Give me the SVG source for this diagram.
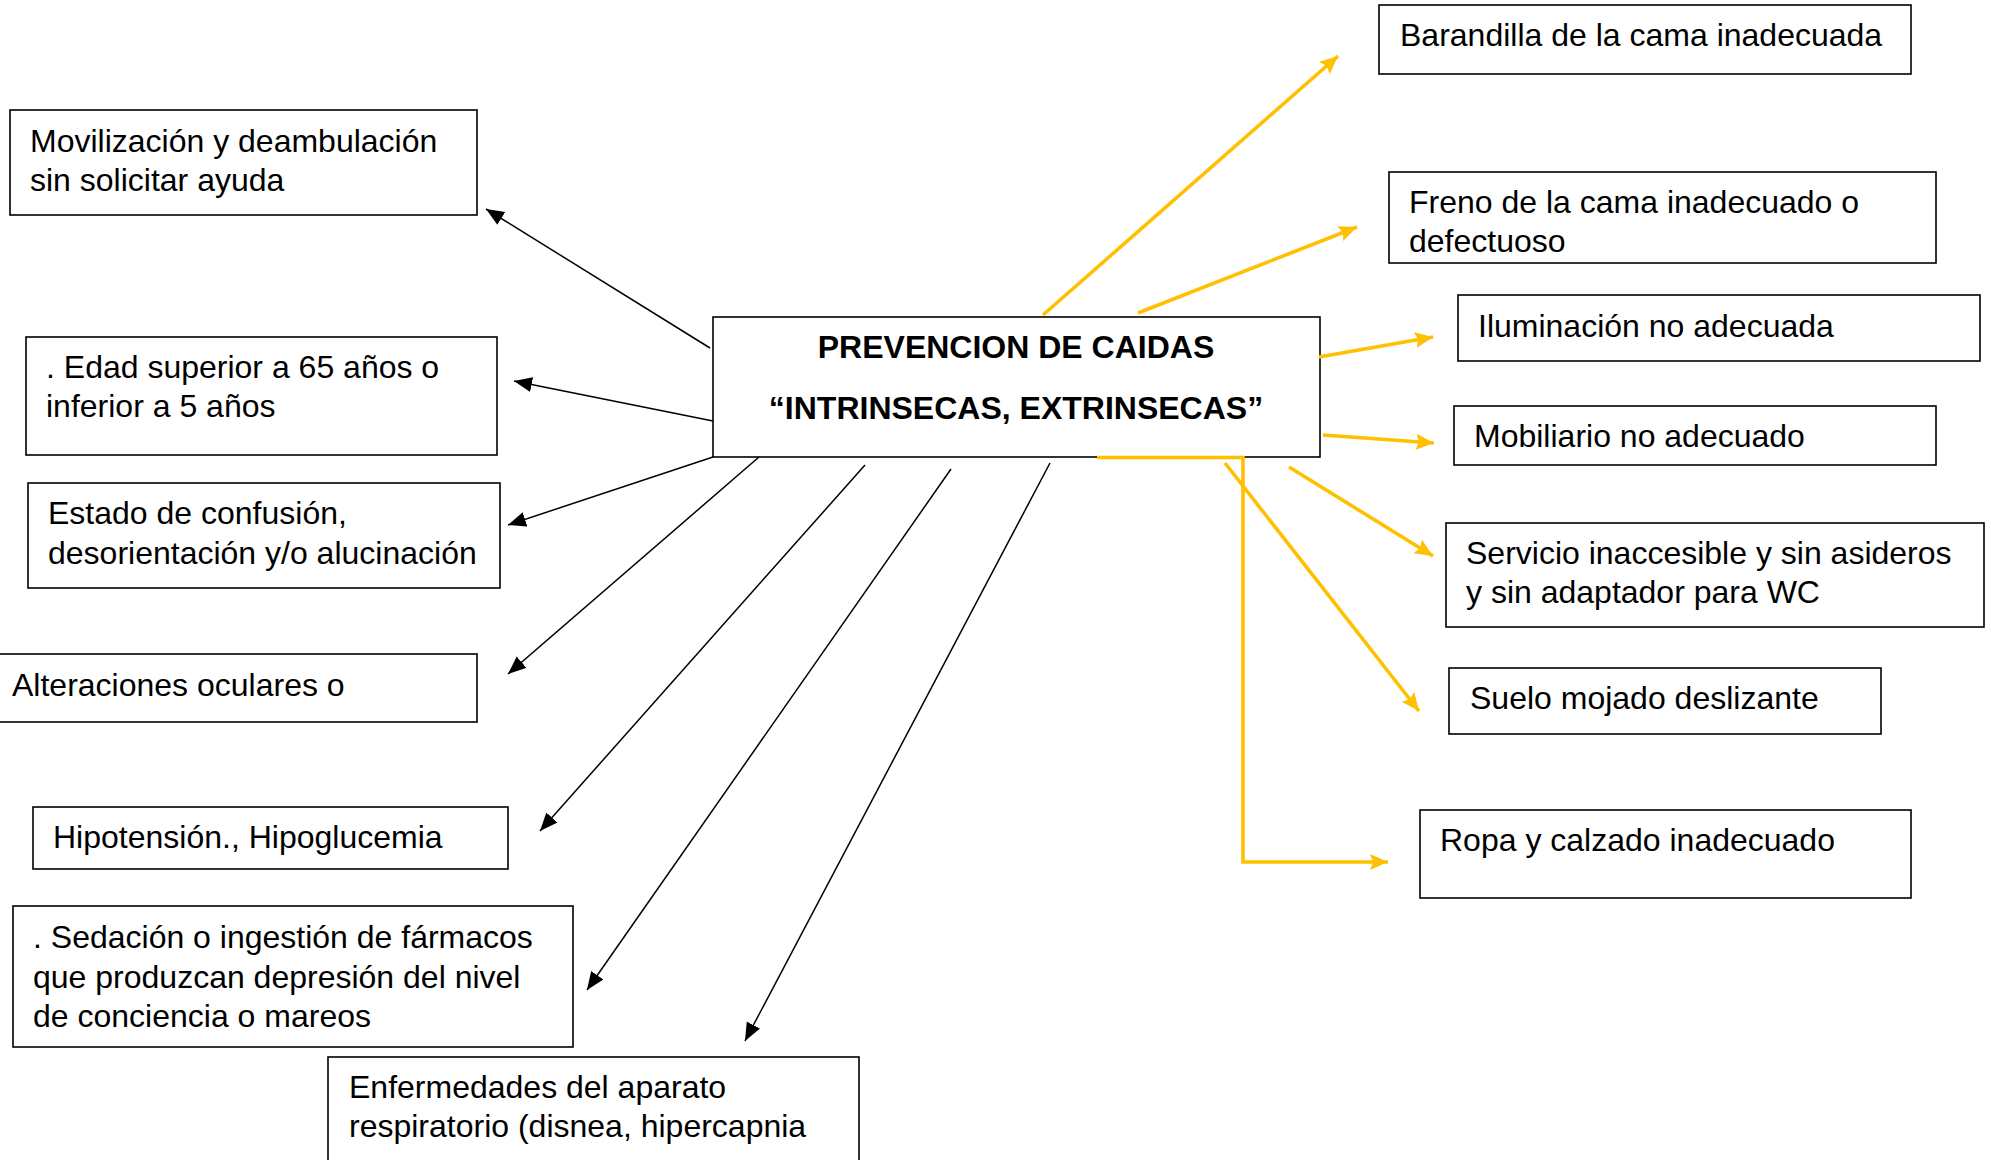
<svg xmlns="http://www.w3.org/2000/svg" width="1991" height="1160" viewBox="0 0 1991 1160">
<defs>
<style>
.box{fill:#fff;stroke:#000;stroke-width:1.6}
.t{font-family:"Liberation Sans",Arial,sans-serif;font-size:32px;fill:#000}
.tb{font-family:"Liberation Sans",Arial,sans-serif;font-size:32px;font-weight:bold;fill:#000;text-anchor:middle}
.bk{stroke:#000;stroke-width:1.5;fill:none;marker-end:url(#ab)}
.yl{stroke:#FFC000;stroke-width:3.6;fill:none;marker-end:url(#ay)}
</style>
<marker id="ab" markerUnits="userSpaceOnUse" markerWidth="20" markerHeight="16" refX="18" refY="7.5" orient="auto">
<path d="M0,0 L18,7.5 L0,15 z" fill="#000"/>
</marker>
<marker id="ay" markerUnits="userSpaceOnUse" markerWidth="20" markerHeight="18" refX="18" refY="8" orient="auto">
<path d="M0,0 L18,8 L0,16 L3,8 z" fill="#FFC000"/>
</marker>
</defs>
<rect width="1991" height="1160" fill="#fff"/>

<g id="n-center">
<rect class="box" x="713" y="317" width="607" height="140"/>
<text class="tb" x="1016" y="358">PREVENCION DE CAIDAS</text>
<text class="tb" x="1016" y="419">“INTRINSECAS, EXTRINSECAS”</text>
</g>

<g id="n-movilizacion">
<rect class="box" x="10" y="110" width="467" height="105"/>
<text class="t" x="30" y="152"><tspan x="30">Movilización y deambulación</tspan><tspan x="30" y="191">sin solicitar ayuda</tspan></text>
</g>
<g id="n-edad">
<rect class="box" x="26" y="337" width="471" height="118"/>
<text class="t" x="46" y="378"><tspan x="46">. Edad superior a 65 años o</tspan><tspan x="46" y="417">inferior a 5 años</tspan></text>
</g>
<g id="n-estado">
<rect class="box" x="28" y="483" width="472" height="105"/>
<text class="t" x="48" y="524"><tspan x="48">Estado de confusión,</tspan><tspan x="48" y="564">desorientación y/o alucinación</tspan></text>
</g>
<g id="n-alteraciones">
<rect class="box" x="-2" y="654" width="479" height="68"/>
<text class="t" x="12" y="696">Alteraciones oculares o</text>
</g>
<g id="n-hipotension">
<rect class="box" x="33" y="807" width="475" height="62"/>
<text class="t" x="53" y="848">Hipotensión., Hipoglucemia</text>
</g>
<g id="n-sedacion">
<rect class="box" x="13" y="906" width="560" height="141"/>
<text class="t" x="33" y="948"><tspan x="33">. Sedación o ingestión de fármacos</tspan><tspan x="33" y="988">que produzcan depresión del nivel</tspan><tspan x="33" y="1027">de conciencia o mareos</tspan></text>
</g>
<g id="n-enfermedades">
<rect class="box" x="328" y="1057" width="531" height="120"/>
<text class="t" x="349" y="1098"><tspan x="349">Enfermedades del aparato</tspan><tspan x="349" y="1137">respiratorio (disnea, hipercapnia</tspan></text>
</g>

<g id="n-barandilla">
<rect class="box" x="1379" y="5" width="532" height="69"/>
<text class="t" x="1400" y="46">Barandilla de la cama inadecuada</text>
</g>
<g id="n-freno">
<rect class="box" x="1389" y="172" width="547" height="91"/>
<text class="t" x="1409" y="213"><tspan x="1409">Freno de la cama inadecuado o</tspan><tspan x="1409" y="252">defectuoso</tspan></text>
</g>
<g id="n-iluminacion">
<rect class="box" x="1458" y="295" width="522" height="66"/>
<text class="t" x="1478" y="337">Iluminación no adecuada</text>
</g>
<g id="n-mobiliario">
<rect class="box" x="1454" y="406" width="482" height="59"/>
<text class="t" x="1474" y="447">Mobiliario no adecuado</text>
</g>
<g id="n-servicio">
<rect class="box" x="1446" y="523" width="538" height="104"/>
<text class="t" x="1466" y="564"><tspan x="1466">Servicio inaccesible y sin asideros</tspan><tspan x="1466" y="603">y sin adaptador para WC</tspan></text>
</g>
<g id="n-suelo">
<rect class="box" x="1449" y="668" width="432" height="66"/>
<text class="t" x="1470" y="709">Suelo mojado deslizante</text>
</g>
<g id="n-ropa">
<rect class="box" x="1420" y="810" width="491" height="88"/>
<text class="t" x="1440" y="851">Ropa y calzado inadecuado</text>
</g>

<g id="connectors">
<line class="bk" x1="710" y1="348" x2="486" y2="209"/>
<line class="bk" x1="713" y1="421" x2="514" y2="381"/>
<line class="bk" x1="713" y1="457" x2="508" y2="525"/>
<line class="bk" x1="759" y1="457" x2="508" y2="674"/>
<line class="bk" x1="865" y1="465" x2="540" y2="831"/>
<line class="bk" x1="951" y1="469" x2="587" y2="990"/>
<line class="bk" x1="1050" y1="463" x2="745" y2="1041"/>

<line class="yl" x1="1043" y1="315" x2="1338" y2="56"/>
<line class="yl" x1="1138" y1="313" x2="1357" y2="227"/>
<line class="yl" x1="1319" y1="357" x2="1433" y2="337"/>
<line class="yl" x1="1323" y1="435" x2="1434" y2="443"/>
<line class="yl" x1="1289" y1="467" x2="1433" y2="556"/>
<line class="yl" x1="1225" y1="463" x2="1419" y2="711"/>
<polyline class="yl" points="1097,457.5 1243,457.5 1243,862 1388,862"/>
</g>
</svg>
